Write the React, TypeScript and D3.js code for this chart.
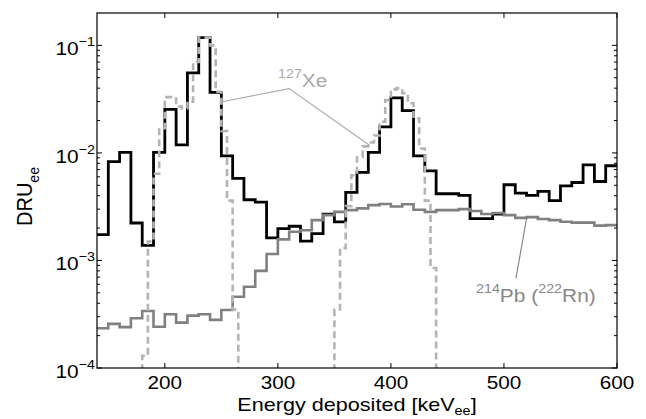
import * as d3 from "d3";

// measured spectrum, 10 keV bins starting at 140 keV
const dataStart = 140;
const dataBin = 10;
const dataValues = [
  1.74e-3, 8.3e-3, 1.01e-2, 2.23e-3, 1.38e-3, 1.01e-2, 2.54e-2, 1.19e-2, 5.55e-2, 0.118,
  3.65e-2, 9.4e-3, 5.8e-3, 3.67e-3, 3.49e-3, 1.62e-3, 1.98e-3, 2.08e-3, 1.51e-3, 1.78e-3,
  2.7e-3, 2.28e-3, 4.3e-3, 6.58e-3, 1.01e-2, 1.75e-2, 3.25e-2, 2.47e-2, 9.4e-3, 6.8e-3,
  4.17e-3, 4.17e-3, 4.03e-3, 2.45e-3, 2.45e-3, 2.7e-3, 5.06e-3, 4.23e-3, 4.03e-3, 4.38e-3,
  3.6e-3, 4.94e-3, 5.31e-3, 7.74e-3, 5.42e-3, 7.6e-3,
];

// 214Pb (222Rn) model, 10 keV bins starting at 140 keV
const pbStart = 140;
const pbBin = 10;
const pbValues = [
  2.34e-4, 2.57e-4, 2.4e-4, 2.9e-4, 3.39e-4, 2.42e-4, 3.16e-4, 2.64e-4, 3.07e-4, 3.16e-4,
  2.8e-4, 3.46e-4, 4.6e-4, 5.7e-4, 8.0e-4, 1.15e-3, 1.57e-3, 1.85e-3, 1.91e-3, 2.37e-3,
  2.64e-3, 2.83e-3, 2.94e-3, 3.05e-3, 3.27e-3, 3.35e-3, 3.18e-3, 3.33e-3, 2.96e-3, 2.83e-3,
  2.94e-3, 2.94e-3, 3.0e-3, 2.88e-3, 2.7e-3, 2.76e-3, 2.64e-3, 2.49e-3, 2.53e-3, 2.43e-3,
  2.37e-3, 2.29e-3, 2.25e-3, 2.25e-3, 2.11e-3, 2.13e-3,
];

// 127Xe model, 5 keV bins, two peaks (1e-5 = off scale)
const xeBin = 5;
const xeLeftStart = 175;
const xeLeftValues = [
  1e-5, 1.3e-4, 1.5e-3, 6.4e-3, 1.7e-2, 3.3e-2, 3.3e-2, 2.7e-2, 2.6e-2, 3.0e-2,
  7.0e-2, 0.118, 0.118, 0.1, 3.7e-2, 1.6e-2, 3.6e-3, 3.5e-4, 1e-5,
];
const xeRightStart = 345;
const xeRightValues = [
  1e-5, 3.5e-4, 1.3e-3, 3.2e-3, 6.2e-3, 9.1e-3, 1.15e-2, 1.25e-2, 1.45e-2, 1.95e-2,
  3.1e-2, 3.9e-2, 4.0e-2, 3.6e-2, 2.9e-2, 2.1e-2, 1.1e-2, 3.6e-3, 8.5e-4, 1e-5,
];

const xTicks = [200, 300, 400, 500, 600];
const yTicks = [1e-4, 1e-3, 1e-2, 1e-1];
const yTickExp = ["\u22124", "\u22123", "\u22122", "\u22121"];

// leader lines [keV, DRU]
const xeLeader: [number, number][] = [
  [250, 2.98e-2],
  [310, 3.96e-2],
  [381, 1.18e-2],
];
const pbLeader: [number, number][] = [
  [510.6, 6.8e-4],
  [520, 2.46e-3],
];

const W = 646;
const H = 419;
const M = { left: 97, right: 29, top: 13, bottom: 51 };
const FONT = "'Liberation Sans', Arial, Helvetica, sans-serif";
const SX = 1.1;

const x = d3.scaleLinear().domain([140, 600]).range([M.left, W - M.right]);
const y = d3.scaleLog().domain([1e-4, 0.2]).range([H - M.bottom, M.top]);

const toSteps = (start: number, bin: number, vals: number[]) => {
  const pts: [number, number][] = vals.map((v, i) => [start + i * bin, v]);
  pts.push([start + vals.length * bin, vals[vals.length - 1]]);
  return pts;
};

const stepLine = d3
  .line<[number, number]>()
  .x((d) => x(d[0]))
  .y((d) => y(d[1]))
  .curve(d3.curveStepAfter);

const plainLine = d3
  .line<[number, number]>()
  .x((d) => x(d[0]))
  .y((d) => y(d[1]));

const minorTicks: number[] = [];
[1e-4, 1e-3, 1e-2, 1e-1].forEach((dec) => {
  for (let k = 2; k <= 9; k++) {
    const v = dec * k;
    if (v < 0.2) minorTicks.push(v);
  }
});

export default function App() {
  const x0 = M.left;
  const x1 = W - M.right;
  const y0 = H - M.bottom;
  const y1 = M.top;

  return (
    <svg
      width={W}
      height={H}
      style={{ position: "absolute", left: 0, top: 0, background: "#fff" }}
      fontFamily={FONT}
    >
      <defs>
        <clipPath id="plot">
          <rect x={x0} y={y1} width={x1 - x0} height={y0 - y1} />
        </clipPath>
      </defs>

      <g clipPath="url(#plot)" fill="none">
        <path
          d={stepLine(toSteps(dataStart, dataBin, dataValues)) || ""}
          stroke="#000"
          strokeWidth={2.8}
        />
        <path
          d={stepLine(toSteps(pbStart, pbBin, pbValues)) || ""}
          stroke="#808080"
          strokeWidth={2.6}
        />
        <path
          d={stepLine(toSteps(xeLeftStart, xeBin, xeLeftValues)) || ""}
          stroke="#b4b4b4"
          strokeWidth={2.6}
          strokeDasharray="7 4"
        />
        <path
          d={stepLine(toSteps(xeRightStart, xeBin, xeRightValues)) || ""}
          stroke="#b4b4b4"
          strokeWidth={2.6}
          strokeDasharray="7 4"
        />
        <path d={plainLine(xeLeader) || ""} stroke="#aaaaaa" strokeWidth={1.1} />
        <path d={plainLine(pbLeader) || ""} stroke="#808080" strokeWidth={1.1} />
      </g>

      {/* frame */}
      <rect x={x0} y={y1} width={x1 - x0} height={y0 - y1} fill="none" stroke="#000" strokeWidth={1.2} />

      {/* x ticks */}
      {xTicks.map((t) => (
        <g key={t}>
          <line x1={x(t)} x2={x(t)} y1={y0} y2={y0 - 5} stroke="#000" />
          <line x1={x(t)} x2={x(t)} y1={y1} y2={y1 + 5} stroke="#000" />
          <text
            transform={`translate(${x(t)},${y0 + 21}) scale(1.15,1)`}
            textAnchor="middle"
            fontSize={18}
            fill="#000"
          >
            {t}
          </text>
        </g>
      ))}

      {/* y ticks */}
      {yTicks.map((t, i) => (
        <g key={t}>
          <line x1={x0} x2={x0 + 5} y1={y(t)} y2={y(t)} stroke="#000" />
          <line x1={x1} x2={x1 - 5} y1={y(t)} y2={y(t)} stroke="#000" />
          <text
            transform={`translate(${x0 - 2},${y(t) + 10}) scale(${SX},1)`}
            textAnchor="end"
            fontSize={19}
            fill="#000"
          >
            10
            <tspan fontSize={13} dy={-9}>
              {yTickExp[i]}
            </tspan>
          </text>
        </g>
      ))}
      {minorTicks.map((t) => (
        <g key={"m" + t}>
          <line x1={x0} x2={x0 + 3} y1={y(t)} y2={y(t)} stroke="#000" />
          <line x1={x1} x2={x1 - 3} y1={y(t)} y2={y(t)} stroke="#000" />
        </g>
      ))}

      {/* axis titles */}
      <text
        transform={`translate(${(x0 + x1) / 2},${H - 8}) scale(1.2,1)`}
        textAnchor="middle"
        fontSize={18}
        fill="#000"
      >
        Energy deposited [keV
        <tspan fontSize={12} dy={4}>
          ee
        </tspan>
        <tspan dy={-4}>]</tspan>
      </text>
      <text
        transform={`translate(32,${(y0 + y1) / 2 + 6}) rotate(-90) scale(1,${SX})`}
        textAnchor="middle"
        fontSize={20}
        fill="#000"
      >
        DRU
        <tspan fontSize={14} dy={6}>
          ee
        </tspan>
      </text>

      {/* annotations */}
      <text transform={`translate(278,87) scale(${SX},1)`} fill="#aaaaaa" fontSize={19}>
        <tspan fontSize={13} dy={-9}>
          127
        </tspan>
        <tspan dy={9}>Xe</tspan>
      </text>
      <text transform={`translate(476,302) scale(${SX},1)`} fill="#888888" fontSize={19}>
        <tspan fontSize={13} dy={-9}>
          214
        </tspan>
        <tspan dy={9}>Pb (</tspan>
        <tspan fontSize={13} dy={-9}>
          222
        </tspan>
        <tspan dy={9}>Rn)</tspan>
      </text>
    </svg>
  );
}
